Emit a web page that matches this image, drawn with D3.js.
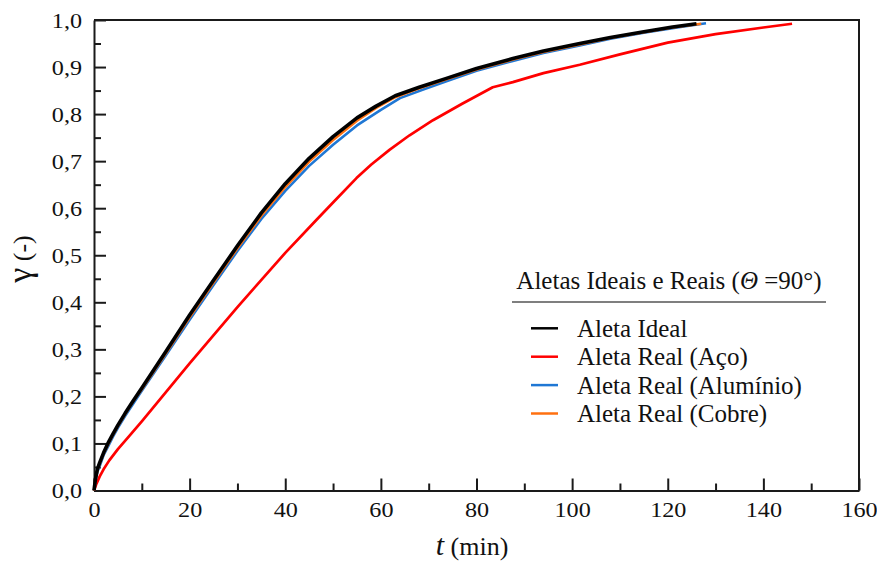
<!DOCTYPE html>
<html>
<head>
<meta charset="utf-8">
<script src="https://cdn.jsdelivr.net/npm/d3@7"></script>
<style>
  body { margin: 0; background: #fff; }
  svg { display: block; font-family: "Liberation Serif", "Times New Roman", serif; }
</style>
</head>
<body>
<svg id="chart" width="877" height="564"></svg>
<script>
// ---- data ----
const seriesNames = ["Aleta Ideal", "Aleta Real (Aço)", "Aleta Real (Alumínio)", "Aleta Real (Cobre)"];
const seriesColors = ["#000000", "#ff0000", "#1f77d4", "#ff7010"];

const tIdeal = [0, 0.3, 0.7, 1.15, 2, 2.9, 4, 5, 6.5, 8.1, 10, 15, 20, 25, 30, 35, 40, 45, 50, 55, 59, 63, 68, 73.7, 80, 87.6, 94, 101.6, 108, 115, 121, 126];
const yIdeal = [0, 0.024, 0.045, 0.058, 0.08, 0.1, 0.121, 0.139, 0.164, 0.189, 0.218, 0.295, 0.373, 0.447, 0.52, 0.59, 0.652, 0.706, 0.752, 0.792, 0.817, 0.839, 0.857, 0.876, 0.897, 0.918, 0.934, 0.95, 0.963, 0.975, 0.985, 0.992];

const tAco = [0, 0.5, 1.2, 2, 3.2, 5, 7.4, 10, 20, 30, 40, 46.5, 50, 54.9, 58, 61.8, 66, 70.9, 77, 83.4, 87.6, 94, 101.6, 110, 120, 130, 140, 146];
const yAco = [0, 0.014, 0.03, 0.045, 0.064, 0.088, 0.116, 0.147, 0.27, 0.39, 0.505, 0.575, 0.612, 0.664, 0.693, 0.724, 0.755, 0.787, 0.822, 0.857, 0.868, 0.887, 0.905, 0.927, 0.952, 0.97, 0.984, 0.992];

const tAluminio = [0, 0.3, 0.7, 1.2, 2, 3, 4, 5, 6.5, 8.5, 10, 15, 20, 25, 30, 35, 40, 45, 50, 55, 60, 64, 69, 74, 80, 87.6, 94, 101.6, 108, 115, 122, 128];
const yAluminio = [0, 0.02, 0.04, 0.052, 0.075, 0.095, 0.115, 0.133, 0.158, 0.189, 0.212, 0.287, 0.363, 0.437, 0.509, 0.577, 0.637, 0.69, 0.735, 0.776, 0.809, 0.834, 0.853, 0.871, 0.892, 0.913, 0.93, 0.946, 0.96, 0.973, 0.984, 0.993];

const tCobre = [0, 0.3, 0.7, 1.15, 2, 3, 4, 5, 6.5, 8.3, 10, 15, 20, 25, 30, 35, 40, 45, 50, 55, 59, 63, 68, 73.7, 80, 87.6, 94, 101.6, 108, 115, 121, 127];
const yCobre = [0, 0.022, 0.042, 0.056, 0.078, 0.099, 0.119, 0.137, 0.162, 0.191, 0.215, 0.291, 0.368, 0.442, 0.515, 0.584, 0.645, 0.699, 0.745, 0.786, 0.813, 0.836, 0.855, 0.874, 0.895, 0.916, 0.932, 0.948, 0.962, 0.974, 0.984, 0.992];

const xTicks = [0, 20, 40, 60, 80, 100, 120, 140, 160];
const yTicks = [0, 0.1, 0.2, 0.3, 0.4, 0.5, 0.6, 0.7, 0.8, 0.9, 1.0];

// ---- layout ----
const svg = d3.select("#chart");
const L = 94, R = 859, T = 20, B = 490.5;
const x = d3.scaleLinear().domain([0, 160]).range([L, R]);
const y = d3.scaleLinear().domain([0, 1]).range([B, T]);
const fmtY = d => d3.format(".1f")(d).replace(".", ",");

// frame (top & right)
svg.append("path")
  .attr("d", `M${L},${T}H${R}V${B}`)
  .attr("fill", "none").attr("stroke", "#1a1a1a").attr("stroke-width", 2);

// x axis
svg.append("g").attr("transform", `translate(0,${B})`)
  .call(d3.axisBottom(x).tickValues(xTicks).tickSize(-12).tickPadding(12).tickSizeOuter(0));
svg.append("g").attr("transform", `translate(0,${B})`)
  .call(d3.axisBottom(x).tickValues(d3.range(10, 160, 20)).tickSize(-7).tickFormat("").tickSizeOuter(0))
  .select(".domain").remove();

// y axis
const yAxis = svg.append("g").attr("transform", `translate(${L},0)`)
  .call(d3.axisLeft(y).tickValues(yTicks).tickSize(-12).tickPadding(12).tickFormat(fmtY).tickSizeOuter(0));
svg.append("g").attr("transform", `translate(${L},0)`)
  .call(d3.axisLeft(y).tickValues(d3.range(0.05, 1, 0.1)).tickSize(-7).tickFormat("").tickSizeOuter(0))
  .select(".domain").remove();

svg.selectAll(".domain").attr("stroke", "#1a1a1a").attr("stroke-width", 2);
svg.selectAll(".tick line").attr("stroke", "#1a1a1a").attr("stroke-width", 2);
svg.selectAll(".tick text")
  .attr("font-family", "'Liberation Serif', 'Times New Roman', serif")
  .attr("font-size", 21).attr("fill", "#111")
  .each(function() {
    const w = this.getComputedTextLength();
    d3.select(this).attr("textLength", w * 1.15).attr("lengthAdjust", "spacingAndGlyphs");
  });
yAxis.selectAll(".tick text").attr("dy", "0.34em");

// axis titles
svg.append("text")
  .attr("x", 472).attr("y", 555).attr("text-anchor", "middle")
  .attr("font-size", 26).attr("fill", "#111")
  .call(t => {
    t.append("tspan").attr("font-style", "italic").attr("font-size", 30).text("t");
    t.append("tspan").text(" (min)");
  });

svg.append("text")
  .attr("transform", "translate(31,259) rotate(-90)")
  .attr("text-anchor", "middle").attr("font-size", 26).attr("fill", "#111")
  .call(t => {
    t.append("tspan").attr("font-size", 34).text("γ");
    t.append("tspan").text(" (-)");
  });

// lines
const seriesT = [tIdeal, tAco, tAluminio, tCobre];
const seriesY = [yIdeal, yAco, yAluminio, yCobre];
const widths = [3.6, 2.7, 2.6, 2.6];
const drawOrder = [1, 2, 3, 0];
const line = d3.line().x(d => x(d[0])).y(d => y(d[1])).curve(d3.curveLinear);
drawOrder.forEach(i => {
  const pts = seriesT[i].map((t, k) => [t, seriesY[i][k]]);
  svg.append("path").datum(pts)
    .attr("d", line)
    .attr("fill", "none")
    .attr("stroke", seriesColors[i])
    .attr("stroke-width", widths[i])
    .attr("stroke-linejoin", "round");
});

// legend
const lg = svg.append("g");
lg.append("text")
  .attr("x", 669).attr("y", 289).attr("text-anchor", "middle")
  .attr("font-size", 25).attr("fill", "#111")
  .call(t => {
    t.append("tspan").text("Aletas Ideais e Reais (");
    t.append("tspan").attr("font-style", "italic").text("Θ");
    t.append("tspan").text(" =90°)");
  });
lg.append("line")
  .attr("x1", 512).attr("x2", 826).attr("y1", 302).attr("y2", 302)
  .attr("stroke", "#555").attr("stroke-width", 1.5);
seriesNames.forEach((name, i) => {
  const yy = 328.3 + i * 28.4;
  lg.append("line")
    .attr("x1", 531).attr("x2", 558).attr("y1", yy).attr("y2", yy)
    .attr("stroke", seriesColors[i]).attr("stroke-width", 2.5);
  lg.append("text")
    .attr("x", 577).attr("y", yy + 8.4)
    .attr("font-size", 25).attr("fill", "#111").text(name);
});
</script>
</body>
</html>
